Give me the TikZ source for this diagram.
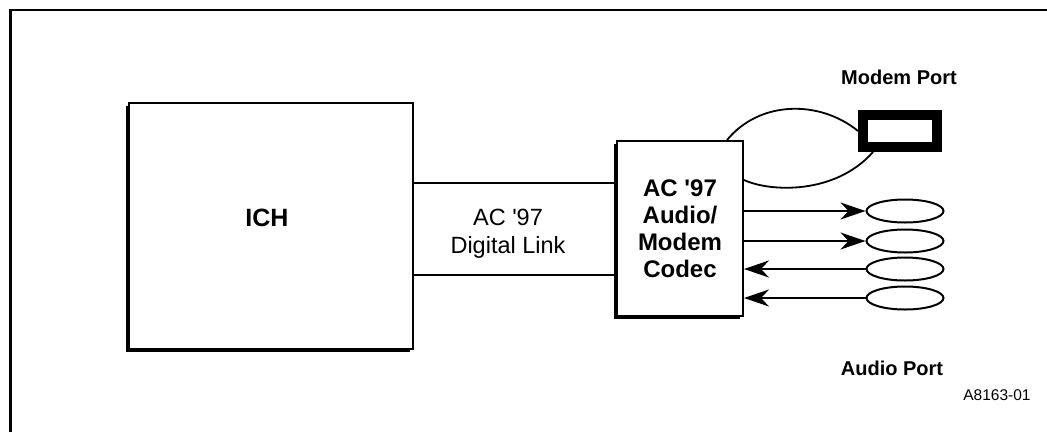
\documentclass[tikz,border=0pt]{standalone}
\usepackage{fontspec}
\setmainfont{Liberation Sans}
\usetikzlibrary{shapes.geometric,arrows.meta,shadows}

\begin{document}
\begin{tikzpicture}[x=1pt, y=-1pt,
    bloco/.style={draw, line width=2pt, fill=white, inner sep=0pt,
      drop shadow={shadow xshift=-3pt, shadow yshift=-3pt, fill=black, opacity=1}},
    porta/.style={draw, ellipse, line width=2pt, minimum width=77pt, minimum height=23pt, inner sep=0pt},
    linha/.style={line width=1.8pt},
    seta/.style={line width=2pt, -{Stealth[length=25pt, width=17pt, inset=8pt]}},
    rotulo/.style={font=\fontsize{20}{24}\selectfont\bfseries}]
    \useasboundingbox (0,0) rectangle (1047,432);

    % moldura
    \draw[line width=2.5pt] (10.5,432) -- (10.5,10) -- (1047,10);

    % blocos
    \node[bloco, minimum width=284pt, minimum height=246pt] (ich) at (271,226) {};
    \node[font=\fontsize{25}{30}\selectfont\bfseries] (ichtxt) at (267,218) {ICH};
    \node[bloco, minimum width=126pt, minimum height=175pt, align=center,
          font=\fontsize{24}{27}\selectfont\bfseries] (codec) at (680,228.5)
          {AC \textquotesingle97\\Audio/\\Modem\\Codec};

    % link digital
    \coordinate (lk1) at (0,183);
    \coordinate (lk2) at (0,275);
    \draw[linha] (ich.east |- lk1) -- (codec.west |- lk1);
    \draw[linha] (ich.east |- lk2) -- (codec.west |- lk2);
    \node[font=\fontsize{23.5}{28}\selectfont, align=center] (link) at (508,234) {AC \textquotesingle97\\Digital Link};

    % porta do modem
    \draw[linha] ([xshift=47pt]codec.north) .. controls (760,100) and (820,100) .. (858,131);
    \draw[linha] ([yshift=48.5pt]codec.east) .. controls (770,192) and (835,195) .. (873,152);
    \node[draw, line width=10pt, minimum width=74pt, minimum height=32pt, inner sep=0pt] (mport) at (900,131) {};
    \node[rotulo] (mlabel) at (899,77) {Modem Port};

    % portas de audio
    \foreach \n/\y in {1/211, 2/241, 3/269, 4/298}
      \node[porta] (aud\n) at (905,\y) {};
    \draw[seta] (codec.east |- aud1) -- (aud1.west);
    \draw[seta] (codec.east |- aud2) -- (aud2.west);
    \draw[seta] (aud3.west) -- (codec.east |- aud3);
    \draw[seta] (aud4.west) -- (codec.east |- aud4);
    \node[rotulo] (alabel) at (892,368) {Audio Port};

    \node[font=\fontsize{15.5}{18}\selectfont] (fig) at (997,395) {A8163-01};
\end{tikzpicture}
\end{document}
